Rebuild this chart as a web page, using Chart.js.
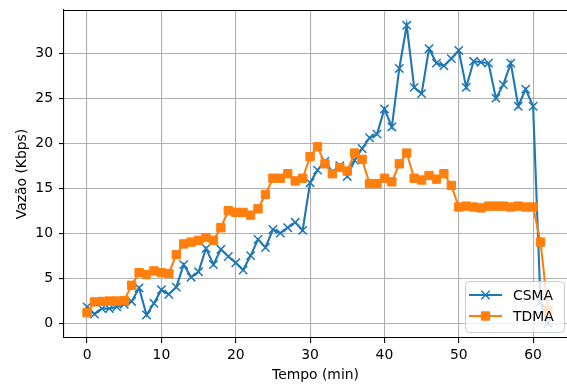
<!DOCTYPE html>
<html>
<head>
<meta charset="utf-8">
<script src="https://cdn.jsdelivr.net/npm/chart.js@4"></script>
<style>
  html, body { margin: 0; padding: 0; background: #fff; overflow: hidden; }
  canvas { display: block; }
</style>
</head>
<body>
<canvas id="grafico-vazao" width="567" height="385"></canvas>
<script>
(function () {
  // minutos 0..62
  const tempo = Array.from({ length: 63 }, (_, i) => i);

  const csma = [
    1.8, 1.0, 1.6, 1.6, 1.8, 2.1, 2.4, 3.9, 0.9, 2.2,
    3.7, 3.2, 4.0, 6.5, 5.1, 5.7, 8.3, 6.5, 8.2, 7.4,
    6.7, 5.9, 7.5, 9.3, 8.4, 10.4, 10.0, 10.6, 11.2, 10.3,
    15.6, 17.0, 18.0, 16.8, 17.5, 16.3, 18.1, 19.4, 20.6, 21.0,
    23.8, 21.8, 28.3, 33.1, 26.2, 25.5, 30.5, 28.9, 28.6, 29.4,
    30.3, 26.2, 29.1, 29.0, 28.9, 25.0, 26.5, 28.9, 24.1, 26.0,
    24.1, 2.3, 0.0
  ];

  const tdma = [
    1.15, 2.35, 2.4, 2.45, 2.45, 2.5, 4.2, 5.6, 5.4, 5.8,
    5.6, 5.5, 7.6, 8.8, 9.0, 9.2, 9.5, 9.2, 10.6, 12.5,
    12.3, 12.3, 12.0, 12.7, 14.3, 16.1, 16.1, 16.6, 15.8, 16.1,
    18.5, 19.6, 17.7, 16.6, 17.3, 16.9, 18.9, 18.2, 15.5, 15.5,
    16.1, 15.7, 17.7, 18.9, 16.1, 15.9, 16.4, 16.0, 16.6, 15.3,
    12.9, 13.0, 12.9, 12.8, 13.0, 13.0, 13.0, 12.9, 13.0, 12.9,
    12.9, 9.0, 1.4
  ];

  const ticksX = [0, 10, 20, 30, 40, 50, 60];
  const ticksY = [0, 5, 10, 15, 20, 25, 30];

  const fonte = { family: 'DejaVu Sans', size: 13.9 };

  // tamanho fixo dos eixos, sem o recuo automático dos rótulos
  function fixarEixo(tam, prop) {
    return s => {
      s[prop] = tam;
      s.paddingTop = 0;
      s.paddingBottom = 0;
      s.paddingLeft = 0;
      s.paddingRight = 0;
    };
  }

  // moldura superior (a borda direita fica além da tela)
  const moldura = {
    id: 'moldura',
    afterDatasetsDraw(chart) {
      const { ctx, chartArea: a } = chart;
      ctx.save();
      ctx.strokeStyle = '#000';
      ctx.lineWidth = 1.1;
      ctx.beginPath();
      ctx.moveTo(a.left, a.top + 0.5);
      ctx.lineTo(a.right, a.top + 0.5);
      ctx.stroke();
      ctx.restore();
    }
  };

  // legenda no canto inferior direito, com linha + marcador
  const legenda = {
    id: 'legenda',
    afterDatasetsDraw(chart) {
      const { ctx } = chart;
      const x = 465, y = 281, w = 99, h = 51, r = 4;
      ctx.save();
      ctx.beginPath();
      ctx.roundRect(x + 0.5, y + 0.5, w, h, r);
      ctx.fillStyle = 'rgba(255,255,255,0.8)';
      ctx.fill();
      ctx.strokeStyle = '#cccccc';
      ctx.lineWidth = 1;
      ctx.stroke();

      chart.data.datasets.forEach((ds, i) => {
        const cy = 295 + i * 21;
        ctx.strokeStyle = ds.borderColor;
        ctx.lineWidth = ds.borderWidth;
        ctx.beginPath();
        ctx.moveTo(469, cy);
        ctx.lineTo(502, cy);
        ctx.stroke();

        ctx.fillStyle = ds.pointBackgroundColor;
        ctx.strokeStyle = ds.pointBorderColor;
        ctx.lineWidth = ds.pointBorderWidth;
        Chart.helpers.drawPoint(ctx, {
          pointStyle: ds.pointStyle,
          radius: ds.pointRadius,
          borderWidth: ds.pointBorderWidth,
          rotation: 0
        }, 485.5, cy);

        ctx.fillStyle = '#000';
        ctx.font = '13.9px "DejaVu Sans"';
        ctx.textBaseline = 'middle';
        ctx.fillText(ds.label, 513, cy + 1);
      });
      ctx.restore();
    }
  };

  const ctx = document.getElementById('grafico-vazao');
  new Chart(ctx, {
    type: 'line',
    data: {
      labels: tempo,
      datasets: [{
        label: 'CSMA',
        data: tempo.map((t, i) => ({ x: t, y: csma[i] })),
        borderColor: '#1f77b4',
        backgroundColor: '#1f77b4',
        borderWidth: 2.1,
        pointStyle: 'crossRot',
        pointRadius: 5.9,
        pointBorderWidth: 1.5,
        pointBorderColor: '#1f77b4',
        pointBackgroundColor: '#1f77b4',
        tension: 0,
        order: 1
      }, {
        label: 'TDMA',
        data: tempo.map((t, i) => ({ x: t, y: tdma[i] })),
        borderColor: '#ff7f0e',
        backgroundColor: '#ff7f0e',
        borderWidth: 2.1,
        pointStyle: 'rect',
        pointRadius: 5.9,
        pointBorderWidth: 1,
        pointBorderColor: '#ff7f0e',
        pointBackgroundColor: '#ff7f0e',
        tension: 0,
        order: 0
      }]
    },
    options: {
      responsive: false,
      animation: false,
      layout: { autoPadding: false, padding: { top: 10, right: 0, bottom: 0, left: 0 } },
      plugins: {
        legend: { display: false },
        tooltip: { enabled: false }
      },
      scales: {
        x: {
          type: 'linear',
          min: -3.1,
          max: 64.56,
          afterFit: fixarEixo(47, 'height'),
          afterBuildTicks: s => { s.ticks = ticksX.map(v => ({ value: v })); },
          grid: { color: '#b0b0b0', lineWidth: 1.1, tickLength: 5, tickColor: '#000', tickWidth: 1.1 },
          border: { color: '#000', width: 1.1 },
          ticks: { color: '#000', font: fonte, padding: 4, maxRotation: 0 },
          title: { display: true, text: 'Tempo (min)', color: '#000', font: fonte, padding: { top: 0, bottom: 1 } }
        },
        y: {
          type: 'linear',
          min: -1.66,
          max: 34.8,
          afterFit: fixarEixo(64, 'width'),
          afterBuildTicks: s => { s.ticks = ticksY.map(v => ({ value: v })); },
          grid: { color: '#b0b0b0', lineWidth: 1.1, tickLength: 5, tickColor: '#000', tickWidth: 1.1 },
          border: { color: '#000', width: 1.1 },
          ticks: { color: '#000', font: fonte, padding: 6 },
          title: { display: true, text: 'Vazão (Kbps)', color: '#000', font: fonte, padding: { top: 13.6, bottom: 0 } }
        }
      }
    },
    plugins: [moldura, legenda]
  });
})();
</script>
</body>
</html>
